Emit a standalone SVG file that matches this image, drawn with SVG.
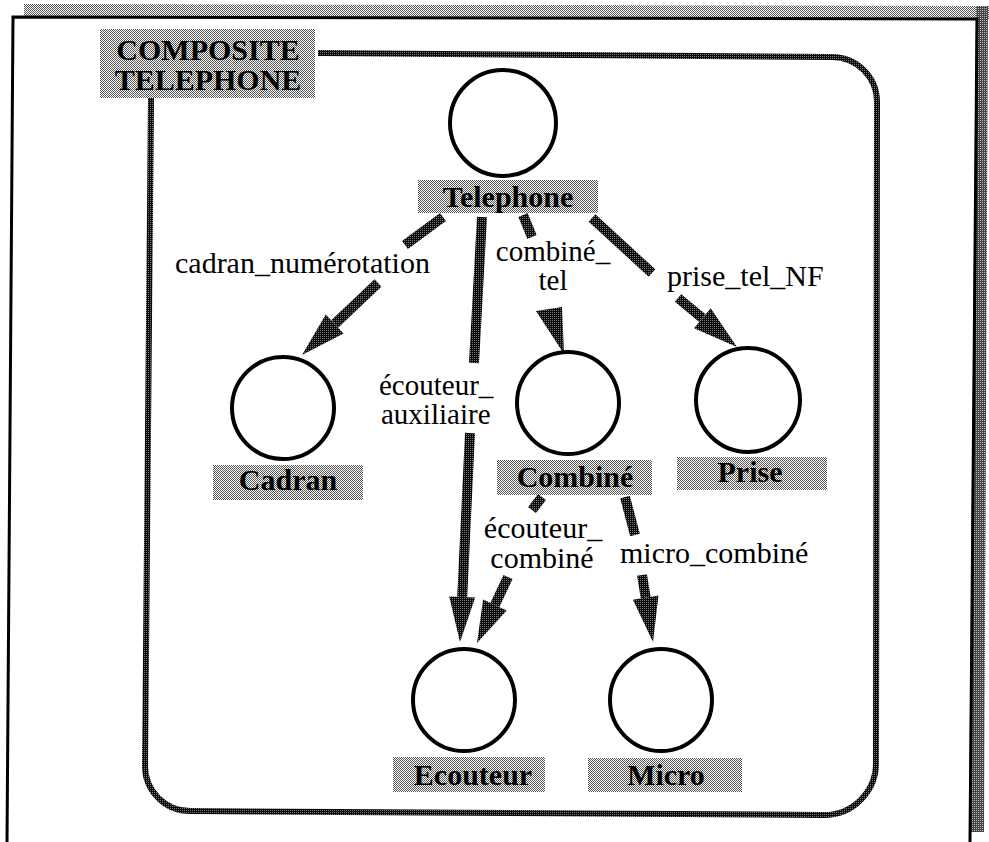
<svg xmlns="http://www.w3.org/2000/svg" width="989" height="842" viewBox="0 0 989 842">
<defs>
<pattern id="lt" width="2" height="2" patternUnits="userSpaceOnUse"><rect width="2" height="2" fill="#fff"/><rect width="1" height="1" fill="#555"/><rect x="1" y="1" width="1" height="1" fill="#555"/></pattern>
<pattern id="md" width="2" height="2" patternUnits="userSpaceOnUse"><rect width="2" height="2" fill="#444"/><rect width="1" height="1" fill="#bbb"/></pattern>
<pattern id="dk" width="2" height="2" patternUnits="userSpaceOnUse"><rect width="2" height="2" fill="#0a0a0a"/><rect width="1" height="1" fill="#777"/></pattern>
<style>
.nl{font-family:"Liberation Serif","Times New Roman",serif;font-weight:bold;font-size:30px;fill:#000;text-anchor:middle}
.el{font-family:"Liberation Serif","Times New Roman",serif;font-size:30px;fill:#000}
.ml{font-size:29px}
.c{fill:#fff;stroke:#000;stroke-width:4}
.box{fill:url(#lt)}
.sh{stroke:url(#dk);stroke-width:10;fill:none}
.hd{fill:url(#dk)}
</style>
</defs>
<rect width="989" height="842" fill="#fff"/>
<g id="frame">
<polygon points="24,4 989,6 989,19 24,16" fill="url(#lt)"/>
<polygon points="976,6 988,6 984,832 969,832" fill="url(#md)"/>
<polyline points="7,842 13,17 977,19 970,842" fill="none" stroke="#000" stroke-width="3"/>
</g>
<g id="composite-telephone">
<path d="M 318 53 L 832 57 A 45 45 0 0 1 877 102 L 876 763 A 52 52 0 0 1 824 815 L 190 811 A 45 45 0 0 1 145 766 L 151 98" fill="none" stroke="url(#dk)" stroke-width="6"/>
<rect class="box" x="100" y="29" width="215" height="69"/>
<text class="nl" x="208" y="60">COMPOSITE</text>
<text class="nl" x="208" y="90">TELEPHONE</text>
</g>
<g id="connectors">
<line class="sh" x1="443" y1="217" x2="405" y2="245"/>
<line class="sh" x1="378" y1="283" x2="334.7" y2="324"/>
<polygon class="hd" points="302,355 343.6,333.4 325.8,314.6"/>
<text class="el" x="175" y="273">cadran_numérotation</text>
<line class="sh" x1="482" y1="217" x2="474" y2="363"/>
<line class="sh" x1="470" y1="433" x2="462.2" y2="597"/>
<polygon class="hd" points="460,642 475.2,597.6 449.2,596.4"/>
<text class="el ml" x="379" y="395">écouteur_</text>
<text class="el ml" x="381" y="424">auxiliaire</text>
<line class="sh" x1="523" y1="215" x2="532" y2="237"/>
<polygon class="hd" points="536,311 562,307 564,354"/>
<text class="el ml" x="553" y="261" text-anchor="middle">combiné_</text>
<text class="el ml" x="553" y="290" text-anchor="middle">tel</text>
<line class="sh" x1="592" y1="218" x2="652" y2="273"/>
<line class="sh" x1="678" y1="298" x2="702.4" y2="318.2"/>
<polygon class="hd" points="737,347 694.1,328.2 710.7,308.2"/>
<text class="el" x="667" y="286">prise_tel_NF</text>
<line class="sh" x1="542" y1="497" x2="532" y2="510"/>
<line class="sh" x1="508" y1="577" x2="494.9" y2="605"/>
<polygon class="hd" points="477,643 506.7,610.5 483.1,599.5"/>
<text class="el" x="543" y="538" text-anchor="middle">écouteur_</text>
<text class="el" x="542" y="568" text-anchor="middle">combiné</text>
<line class="sh" x1="625" y1="497" x2="635" y2="535"/>
<line class="sh" x1="642" y1="575" x2="645.7" y2="597.6"/>
<polygon class="hd" points="653,642 632.9,599.7 658.5,595.5"/>
<text class="el" x="620" y="563">micro_combiné</text>
</g>
<g id="node-telephone">
<circle class="c" cx="503" cy="123" r="53"/>
<rect class="box" x="418" y="180" width="180" height="33"/>
<text class="nl" x="508" y="207">Telephone</text>
</g>
<g id="node-cadran">
<circle class="c" cx="283" cy="408" r="51"/>
<rect class="box" x="213" y="465" width="150" height="35"/>
<text class="nl" x="288" y="490">Cadran</text>
</g>
<g id="node-combine">
<circle class="c" cx="568" cy="403" r="51"/>
<rect class="box" x="497" y="460" width="155" height="35"/>
<text class="nl" x="575" y="487">Combiné</text>
</g>
<g id="node-prise">
<circle class="c" cx="748" cy="400" r="52"/>
<rect class="box" x="677" y="457" width="150" height="33"/>
<text class="nl" x="750" y="482">Prise</text>
</g>
<g id="node-ecouteur">
<circle class="c" cx="464" cy="700" r="51"/>
<rect class="box" x="393" y="757" width="152" height="35"/>
<text class="nl" x="473" y="785">Ecouteur</text>
</g>
<g id="node-micro">
<circle class="c" cx="661" cy="700" r="51"/>
<rect class="box" x="588" y="758" width="154" height="34"/>
<text class="nl" x="666" y="785">Micro</text>
</g>
</svg>
